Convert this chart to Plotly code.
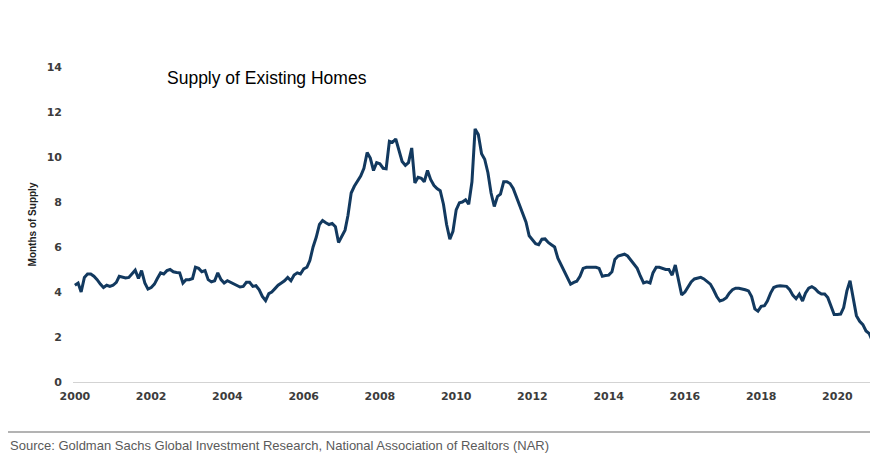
import pandas as pd
import plotly.graph_objects as go

# Months' supply of existing homes, monthly from Jan 2000
supply_2000_2004 = [
    4.3, 4.4, 4.0, 4.65, 4.8, 4.8, 4.7, 4.55, 4.35, 4.2, 4.3, 4.25,
    4.3, 4.43, 4.7, 4.65, 4.62, 4.65, 4.8, 4.97, 4.6, 4.95, 4.4, 4.13,
    4.2, 4.35, 4.6, 4.85, 4.8, 4.95, 5.0, 4.9, 4.87, 4.85, 4.4, 4.55,
    4.55, 4.6, 5.1, 5.05, 4.9, 4.95, 4.55, 4.45, 4.5, 4.85, 4.55, 4.4,
    4.5, 4.42, 4.35, 4.28, 4.22, 4.25, 4.43, 4.43, 4.25, 4.28, 4.1, 3.8,
]
supply_2005_2009 = [
    3.62, 3.93, 4.0, 4.15, 4.3, 4.4, 4.5, 4.65, 4.5, 4.75, 4.85, 4.8,
    5.03, 5.1, 5.4, 6.0, 6.43, 7.0, 7.18, 7.08, 7.0, 7.05, 6.9, 6.2,
    6.45, 6.75, 7.4, 8.4, 8.7, 8.95, 9.15, 9.5, 10.2, 9.95, 9.4, 9.75,
    9.7, 9.5, 9.48, 10.7, 10.65, 10.8, 10.3, 9.8, 9.63, 9.75, 10.4, 8.85,
    9.1, 9.05, 8.9, 9.4, 9.0, 8.74, 8.6, 8.5, 7.9, 7.0, 6.35, 6.7,
]
supply_2010_2014 = [
    7.65, 7.97, 8.0, 8.1, 7.9, 8.9, 11.25, 11.0, 10.15, 9.9, 9.3, 8.4,
    7.8, 8.25, 8.35, 8.9, 8.9, 8.82, 8.6, 8.2, 7.85, 7.45, 7.1, 6.5,
    6.3, 6.15, 6.1, 6.35, 6.36, 6.2, 6.1, 6.0, 5.5, 5.2, 4.9, 4.6,
    4.35, 4.43, 4.48, 4.7, 5.05, 5.1, 5.1, 5.1, 5.1, 5.05, 4.7, 4.73,
    4.75, 4.9, 5.45, 5.6, 5.65, 5.68, 5.6, 5.4, 5.25, 5.05, 4.7, 4.4,
]
supply_2015_2020 = [
    4.45, 4.4, 4.85, 5.1, 5.1, 5.05, 5.0, 5.0, 4.75, 5.2, 4.5, 3.87,
    4.0, 4.25, 4.45, 4.58, 4.63, 4.65, 4.58, 4.45, 4.35, 4.1, 3.8, 3.6,
    3.65, 3.75, 3.95, 4.1, 4.17, 4.17, 4.15, 4.1, 4.05, 3.8, 3.25, 3.15,
    3.36, 3.39, 3.6, 3.95, 4.2, 4.26, 4.28, 4.28, 4.25, 4.1, 3.85, 3.7,
    3.9, 3.6, 3.95, 4.17, 4.24, 4.15, 4.0, 3.91, 3.91, 3.75, 3.4, 3.0,
    3.0, 3.02, 3.31, 4.05, 4.5, 3.7, 2.95, 2.7, 2.55, 2.27, 2.15, 1.83,
]
start_month = "2000-01-01"

tick_years = [2000, 2002, 2004, 2006, 2008, 2010, 2012, 2014, 2016, 2018, 2020]
y_ticks = [0, 2, 4, 6, 8, 10, 12, 14]

values = supply_2000_2004 + supply_2005_2009 + supply_2010_2014 + supply_2015_2020
dates = pd.date_range(start_month, periods=len(values), freq="MS")

# figure geometry (page body adds an 8px offset)
W, H = 870, 449
L, T, PW, PH = 65, 59, 800, 315
B = H - T - PH
R = W - L - PW


def px(xf):
    return (xf - L) / PW


def py(yf):
    return (T + PH - yf) / PH


fig = go.Figure()
fig.add_trace(go.Scatter(
    x=dates, y=values, mode="lines",
    line=dict(color="#12395f", width=3),
    hoverinfo="skip", showlegend=False,
))

tick_font = dict(family="DejaVu Sans", size=11, color="#3c3c3c", weight="bold")

fig.update_layout(
    width=W, height=H,
    margin=dict(l=L, r=R, t=T, b=B),
    paper_bgcolor="white", plot_bgcolor="white",
    xaxis=dict(
        range=["1999-12-14", "2020-12-07"],
        tickvals=[f"{y}-01-01" for y in tick_years],
        ticktext=[str(y) for y in tick_years],
        showgrid=False, zeroline=False,
        showline=True, linecolor="#d3d3d3", linewidth=1,
        ticks="", tickfont=tick_font, ticklabelstandoff=4,
    ),
    yaxis=dict(
        range=[0, 14],
        tickvals=y_ticks,
        ticktext=[str(v) for v in y_ticks],
        showgrid=False, zeroline=False, showline=False,
        ticks="", tickfont=tick_font, ticklabelstandoff=10,
        title=dict(
            text="Months of Supply",
            font=dict(family="Liberation Sans Narrow, Arial Narrow, Liberation Sans",
                      size=10, color="#222222", weight="bold"),
            standoff=8,
        ),
    ),
    annotations=[
        dict(text="Supply of Existing Homes", xref="paper", yref="paper",
             x=px(157), y=py(70),
             xanchor="left", yanchor="middle", showarrow=False,
             font=dict(family="Liberation Sans", size=17.5, color="#000000")),
        dict(text="Source: Goldman Sachs Global Investment Research, National Association of Realtors (NAR)",
             xref="paper", yref="paper",
             x=px(0), y=py(437),
             xanchor="left", yanchor="middle", showarrow=False,
             font=dict(family="Liberation Sans", size=13, color="#5a5a5a")),
    ],
    shapes=[
        dict(type="line", xref="paper", yref="paper",
             x0=px(0), x1=px(W),
             y0=py(424), y1=py(424),
             line=dict(color="#9a9a9a", width=1.5)),
    ],
)

fig.write_html("out.html")
